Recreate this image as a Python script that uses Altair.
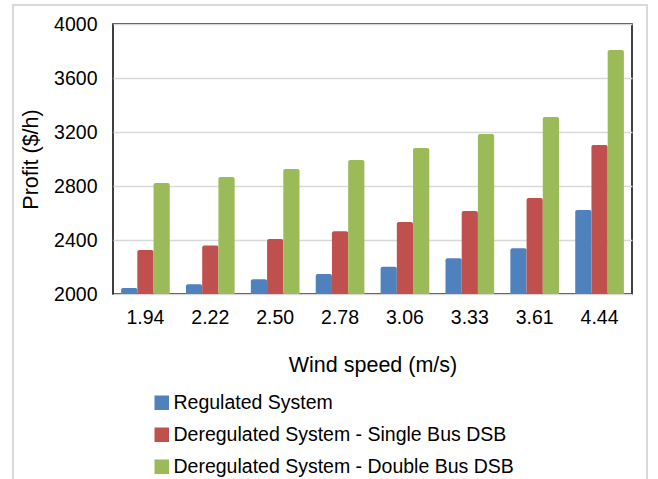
import altair as alt
import pandas as pd

speeds = ["1.94", "2.22", "2.50", "2.78", "3.06", "3.33", "3.61", "4.44"]
series = ["Regulated System",
          "Deregulated System - Single Bus DSB",
          "Deregulated System - Double Bus DSB"]
regulated = [2044, 2072, 2109, 2148, 2202, 2264, 2338, 2622]
single_bus = [2326, 2360, 2407, 2465, 2533, 2615, 2711, 3104]
double_bus = [2822, 2867, 2926, 2993, 3081, 3185, 3311, 3807]
colors = ["#4f81bd", "#c0504d", "#9bbb59"]
baseline = 2000

rows = []
for name, vals in zip(series, [regulated, single_bus, double_bus]):
    for s, v in zip(speeds, vals):
        rows.append({"speed": s, "series": name, "profit": v})
df = pd.DataFrame(rows)

FONT = "Liberation Sans"

bars = alt.Chart(df).mark_bar(cornerRadiusTopLeft=2, cornerRadiusTopRight=2).encode(
    x=alt.X("speed:N", sort=speeds, title="Wind speed (m/s)",
            scale=alt.Scale(paddingInner=0.25, paddingOuter=0.125),
            axis=alt.Axis(labelAngle=0, ticks=False, domain=False, labelPadding=14,
                          titlePadding=28, labelFontSize=19.5, titleFontSize=21.5,
                          labelFont=FONT, titleFont=FONT, labelColor="#000",
                          titleColor="#000", titleFontWeight="normal")),
    xOffset=alt.XOffset("series:N", sort=series, scale=alt.Scale(paddingInner=0)),
    y=alt.Y("profit:Q", title="Profit ($/h)",
            scale=alt.Scale(domain=[2000, 4000], nice=False, zero=False),
            axis=alt.Axis(values=[2000, 2400, 2800, 3200, 3600, 4000], ticks=False,
                          format="d",
                          domain=False, labelPadding=16, titlePadding=11,
                          labelFontSize=19.5, titleFontSize=21.5, labelFont=FONT,
                          titleFont=FONT, labelColor="#000", titleColor="#000",
                          titleFontWeight="normal", gridColor="#d9d9d9",
                          gridWidth=1.5)),
    y2=alt.datum(baseline),
    color=alt.Color("series:N", sort=series,
                    scale=alt.Scale(domain=series, range=colors),
                    legend=alt.Legend(title=None, orient="none", legendX=39, legendY=369,
                                      symbolType="square", symbolSize=210,
                                      symbolStrokeWidth=0, labelFontSize=19.5,
                                      labelFont=FONT, labelColor="#000", labelLimit=0,
                                      rowPadding=11, labelOffset=2, direction="vertical")),
)

frame = alt.Chart(pd.DataFrame({"a": [0]})).mark_rect(
    fill=None, stroke="#d9d9d9", strokeWidth=2, clip=False
).encode(x=alt.value(-100), x2=alt.value(534), y=alt.value(-19), y2=alt.value(520))

chart = alt.layer(frame, bars).properties(
    width=519, height=270,
    background="white",
    autosize=alt.AutoSizeParams(type="none"),
    padding={"left": 113, "top": 24, "right": 26, "bottom": 185},
).configure_view(stroke="#000", strokeWidth=1.5)

chart.save("out.html", embed_options={"renderer": "svg", "actions": False})
